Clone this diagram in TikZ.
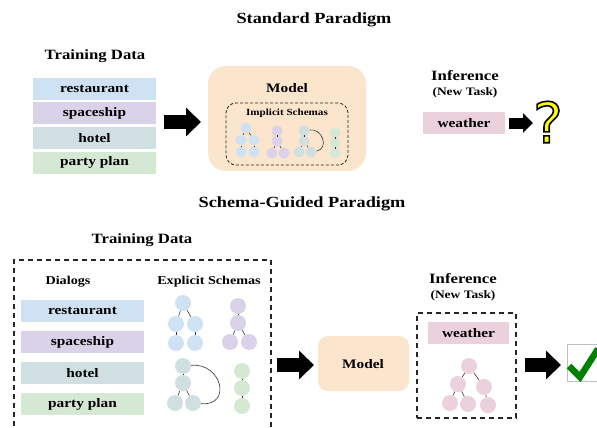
\documentclass[tikz,border=0pt]{standalone}
\usepackage{fontspec}
\usetikzlibrary{arrows.meta}
\setmainfont[FakeStretch=1.18]{Liberation Serif}
\definecolor{barblue}{HTML}{CFE2F3}
\definecolor{barpurple}{HTML}{D9D2E9}
\definecolor{barteal}{HTML}{CFDFE2}
\definecolor{bargreen}{HTML}{D5E8D4}
\definecolor{barpink}{HTML}{EAD1DC}
\definecolor{modelfill}{HTML}{FCE5CD}
\tikzset{
    title/.style={font=\bfseries\fontsize{15.5}{16}\selectfont},
    head/.style={font=\bfseries\fontsize{14.2}{15}\selectfont},
    sub/.style={font=\bfseries\fontsize{11.4}{12}\selectfont},
    label/.style={font=\bfseries\fontsize{12}{12}\selectfont},
    model text/.style={font=\bfseries\fontsize{13}{13}\selectfont},
    bar/.style={minimum width=123pt, minimum height=22pt, inner sep=0pt, font=\bfseries\fontsize{13}{13}\selectfont},
    modelbox/.style={fill=modelfill, inner sep=0pt},
    bigarrow/.style={-{Triangle[length=15pt, width=28pt]}, line width=14pt},
    smallarrow/.style={-{Triangle[length=10pt, width=19pt]}, line width=11pt},
    dashbox/.style={draw=black!85, line width=1.2pt, dash pattern=on 5pt off 4pt},
    dot/.style={circle, inner sep=0pt, minimum size=16pt},
    tiny dot/.style={circle, inner sep=0pt, minimum size=11pt},
    link/.style={draw=black!80, line width=0.6pt},
}
\begin{document}
\begin{tikzpicture}[x=1pt, y=-1pt]
    \useasboundingbox (0, 0) rectangle (597, 428);

    % standard paradigm
    \node[title] (top title) at (314, 20) {Standard Paradigm};
    \node[head] (top data) at (95, 56) {Training Data};
    \node[bar, fill=barblue] (top b1) at (94.5, 89) {restaurant};
    \node[bar, fill=barpurple] (top b2) at (94.5, 113) {spaceship};
    \node[bar, fill=barteal] (top b3) at (94.5, 138) {hotel};
    \node[bar, fill=bargreen] (top b4) at (94.5, 162.5) {party plan};
    \coordinate (top a1s) at (164, 122);
    \coordinate (top a1e) at (201, 122);
    \draw[bigarrow] (top a1s) -- (top a1e);

    \node[modelbox, rounded corners=18pt, minimum width=158pt, minimum height=105pt] (top model) at (287, 118.5) {};
    \node[model text] (top model text) at (287, 88) {Model};
    \node[dashbox, line width=0.8pt, dash pattern=on 3pt off 2pt, rounded corners=10pt, minimum width=122pt, minimum height=62pt] (implicit) at (287, 134) {};
    \node[font=\bfseries\fontsize{9.4}{10}\selectfont] (implicit text) at (287, 113) {Implicit Schemas};

    \node[tiny dot, fill=barblue] (i0) at (246, 128) {};
    \node[tiny dot, fill=barblue] (i1) at (241, 140) {};
    \node[tiny dot, fill=barblue] (i2) at (254, 140) {};
    \node[tiny dot, fill=barblue] (i3) at (241, 152) {};
    \node[tiny dot, fill=barblue] (i4) at (254, 152) {};
    \draw[link] (i0) -- (i1);
    \draw[link] (i0) -- (i2);
    \draw[link] (i1) -- (i3);
    \draw[link] (i2) -- (i4);

    \node[tiny dot, fill=barpurple] (j0) at (277, 131) {};
    \node[tiny dot, fill=barpurple] (j1) at (277, 141) {};
    \node[tiny dot, fill=barpurple] (j2) at (272, 153) {};
    \node[tiny dot, fill=barpurple] (j3) at (284, 153) {};
    \draw[link] (j0) -- (j1);
    \draw[link] (j1) -- (j2);
    \draw[link] (j1) -- (j3);

    \node[tiny dot, fill=barteal] (k0) at (304, 131) {};
    \node[tiny dot, fill=barteal] (k1) at (304, 141) {};
    \node[tiny dot, fill=barteal] (k2) at (299, 152) {};
    \node[tiny dot, fill=barteal] (k3) at (311, 152) {};
    \draw[link] (k0) -- (k1);
    \draw[link] (k1) -- (k2);
    \draw[link] (k1) -- (k3);
    \draw[link] (k0) to[out=10, in=10, looseness=1.5] (k3);

    \node[tiny dot, fill=bargreen] (l0) at (335, 133) {};
    \node[tiny dot, fill=bargreen] (l1) at (335, 143) {};
    \node[tiny dot, fill=bargreen] (l2) at (335, 153) {};
    \draw[link] (l0) -- (l1);
    \draw[link] (l1) -- (l2);

    \node[head] (top inf) at (465, 76) {Inference};
    \node[sub] (top task) at (465, 93) {(New Task)};
    \node[bar, fill=barpink, minimum width=82pt] (top weather) at (464, 123) {weather};
    \coordinate (top a2s) at (509, 123);
    \coordinate (top a2e) at (533, 123);
    \draw[smallarrow] (top a2s) -- (top a2e);
    \node[font=\fontspec{DejaVu Sans}\fontsize{56}{56}\selectfont, inner sep=0pt] (query) at (548, 122) {\special{pdf:code q 2 Tr 1.6 w 0 0 0 RG 1 1 0 rg}?\special{pdf:code Q}};

    % schema-guided paradigm
    \node[title] (low title) at (302, 204) {Schema-Guided Paradigm};
    \node[head] (low data) at (142, 240) {Training Data};
    \node[dashbox, minimum width=257pt, minimum height=180pt] (train) at (142.5, 350) {};
    \node[label] (dialogs) at (68, 282) {Dialogs};
    \node[label] (explicit) at (209, 282) {Explicit Schemas};
    \node[bar, fill=barblue] (low b1) at (82.5, 311) {restaurant};
    \node[bar, fill=barpurple] (low b2) at (82.5, 342) {spaceship};
    \node[bar, fill=barteal] (low b3) at (82.5, 373) {hotel};
    \node[bar, fill=bargreen] (low b4) at (82.5, 404) {party plan};

    \node[dot, fill=barblue] (a0) at (183, 303) {};
    \node[dot, fill=barblue] (a1) at (176, 324) {};
    \node[dot, fill=barblue] (a2) at (195, 324) {};
    \node[dot, fill=barblue] (a3) at (176, 343) {};
    \node[dot, fill=barblue] (a4) at (195, 343) {};
    \draw[link] (a0) -- (a1);
    \draw[link] (a0) -- (a2);
    \draw[link] (a1) -- (a3);
    \draw[link] (a2) -- (a4);

    \node[dot, fill=barpurple] (b0) at (238, 306) {};
    \node[dot, fill=barpurple] (b1) at (238, 323) {};
    \node[dot, fill=barpurple] (b2) at (230, 342) {};
    \node[dot, fill=barpurple] (b3) at (249, 342) {};
    \draw[link] (b0) -- (b1);
    \draw[link] (b1) -- (b2);
    \draw[link] (b1) -- (b3);

    \node[dot, fill=barteal] (c0) at (183, 366) {};
    \node[dot, fill=barteal] (c1) at (183, 383) {};
    \node[dot, fill=barteal] (c2) at (175, 403) {};
    \node[dot, fill=barteal] (c3) at (193, 403) {};
    \draw[link] (c0) -- (c1);
    \draw[link] (c1) -- (c2);
    \draw[link] (c1) -- (c3);
    \draw[link] (c0) to[out=5, in=-5, looseness=2] (c3);

    \node[dot, fill=bargreen] (d0) at (242, 371) {};
    \node[dot, fill=bargreen] (d1) at (242, 388) {};
    \node[dot, fill=bargreen] (d2) at (242, 406) {};
    \draw[link] (d0) -- (d1);
    \draw[link] (d1) -- (d2);

    \coordinate (low a1s) at (277, 365);
    \coordinate (low a1e) at (314, 365);
    \draw[bigarrow] (low a1s) -- (low a1e);
    \node[modelbox, rounded corners=10pt, minimum width=91pt, minimum height=55pt] (low model) at (363.5, 363.5) {};
    \node[model text] (low model text) at (363, 364) {Model};

    \node[head] (low inf) at (463, 279) {Inference};
    \node[sub] (low task) at (463, 296) {(New Task)};
    \node[dashbox, minimum width=99pt, minimum height=105pt] (infer) at (466.5, 365.5) {};
    \node[bar, fill=barpink, minimum width=81pt] (low weather) at (468.5, 333) {weather};

    \node[dot, fill=barpink] (e0) at (469, 366) {};
    \node[dot, fill=barpink] (e1) at (458, 384) {};
    \node[dot, fill=barpink] (e2) at (484, 387) {};
    \node[dot, fill=barpink] (e3) at (450, 403) {};
    \node[dot, fill=barpink] (e4) at (468, 404) {};
    \node[dot, fill=barpink] (e5) at (488, 405) {};
    \draw[link] (e0) -- (e1);
    \draw[link] (e0) -- (e2);
    \draw[link] (e1) -- (e3);
    \draw[link] (e1) -- (e4);
    \draw[link] (e2) -- (e5);

    \coordinate (low a2s) at (525, 365);
    \coordinate (low a2e) at (561, 365);
    \draw[bigarrow] (low a2s) -- (low a2e);
    \draw[black!25, line width=0.5pt] (597, 344) -- (567, 344) -- (567, 381) -- (597, 381);
    \draw[draw=green!50!black, line width=6.5pt] (569, 366) -- (580, 377) -- (598, 349);
\end{tikzpicture}
\end{document}
